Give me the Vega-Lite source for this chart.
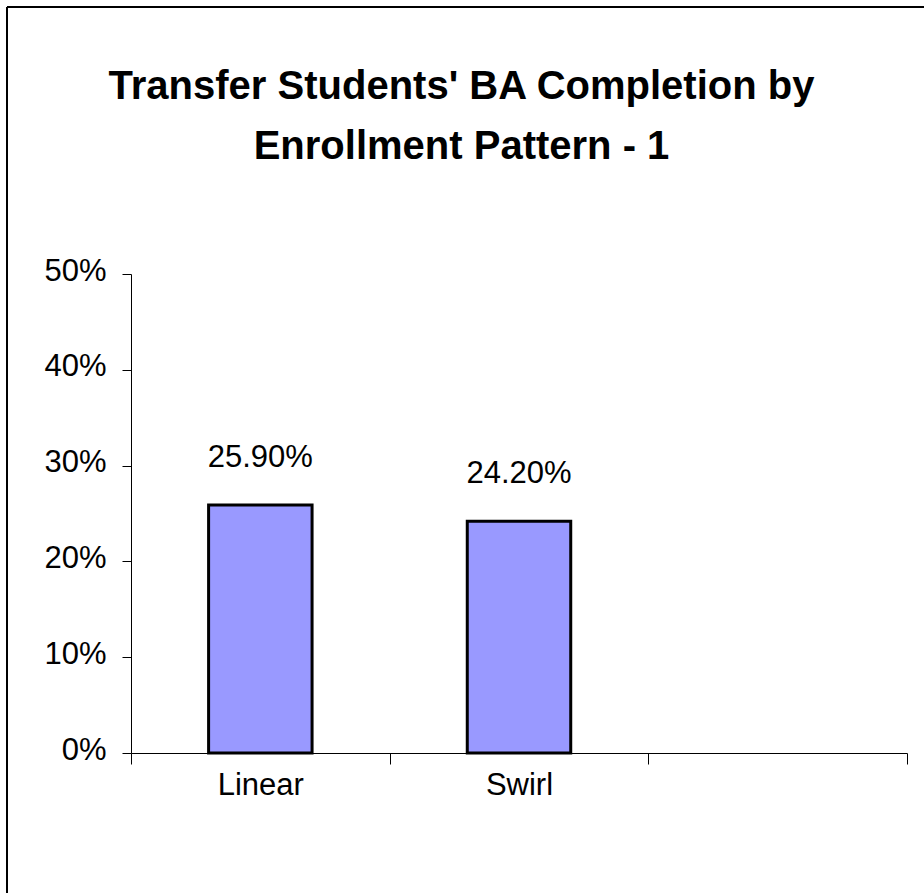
{
  "$schema": "https://vega.github.io/schema/vega-lite/v6.json",
  "width": 917,
  "height": 886,
  "autosize": {"type": "none"},
  "padding": {"left": 7, "top": 7, "right": 0, "bottom": 0},
  "background": "white",
  "title": {
    "text": ["Transfer Students' BA Completion by", "Enrollment Pattern - 1"],
    "font": "Liberation Sans",
    "fontSize": 40,
    "fontWeight": "bold",
    "color": "black",
    "anchor": "middle",
    "frame": "group",
    "lineHeight": 60,
    "offset": -160,
    "dx": -4
  },
  "config": {
    "view": {"stroke": "black", "strokeWidth": 2, "strokeDash": [917, 1803, 886, 0]},
    "axis": {
      "labelFont": "Liberation Sans",
      "labelFontSize": 31,
      "labelColor": "black",
      "domainColor": "black",
      "tickColor": "black",
      "domainWidth": 1,
      "tickWidth": 1,
      "grid": false,
      "title": null
    }
  },
  "data": {"values": [
    {"pattern": "Linear", "rate": 0.259},
    {"pattern": "Swirl", "rate": 0.242}
  ]},
  "encoding": {
    "x": {
      "field": "pattern",
      "type": "nominal",
      "sort": null,
      "scale": {"domain": ["Linear", "Swirl", " "], "range": [124, 900], "paddingInner": 0, "paddingOuter": 0},
      "axis": {"orient": "bottom", "offset": -140, "tickBand": "extent", "tickSize": 11, "labelPadding": 6, "labelAngle": 0}
    },
    "y": {
      "field": "rate",
      "type": "quantitative",
      "scale": {"domain": [0, 0.5], "range": [746, 267], "nice": false, "zero": true},
      "axis": {"orient": "left", "offset": -124, "values": [0, 0.1, 0.2, 0.3, 0.4, 0.5], "format": ".0%", "tickSize": 9, "labelPadding": 16, "labelOffset": -3}
    }
  },
  "layer": [
    {"mark": {"type": "bar", "width": {"band": 0.4}, "fill": "#9999FF", "stroke": "black", "strokeWidth": 3}},
    {
      "mark": {"type": "text", "baseline": "alphabetic", "align": "center", "dy": -38, "font": "Liberation Sans", "fontSize": 31, "color": "black"},
      "encoding": {"text": {"field": "rate", "type": "quantitative", "format": ".2%"}}
    }
  ]
}
